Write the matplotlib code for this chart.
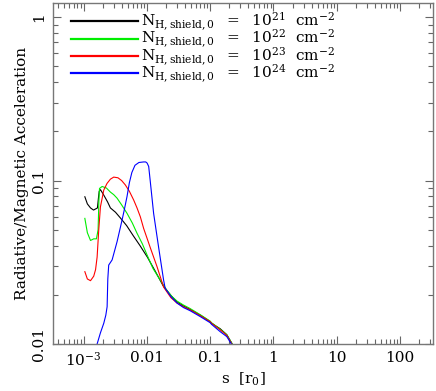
import numpy as np
import matplotlib
matplotlib.use('Agg')
import matplotlib.pyplot as plt
from matplotlib.ticker import LogLocator, FixedLocator, NullFormatter

plt.rcParams['font.family'] = 'DejaVu Serif'
plt.rcParams['mathtext.fontset'] = 'dejavuserif'

# s [r0] and acceleration ratio for each shielding column
s_1e21 = [1.05e-3, 1.15e-3, 1.29e-3, 1.44e-3, 1.66e-3, 1.72e-3, 1.77e-3, 1.85e-3, 2.07e-3,
          2.4e-3, 2.66e-3, 3.2e-3, 3.83e-3, 4.8e-3, 6.1e-3, 7.8e-3, 0.0102, 0.0135, 0.018,
          0.024, 0.030, 0.038, 0.048, 0.07, 0.1, 0.105, 0.144, 0.183, 0.22, 0.23]
a_1e21 = [0.0796, 0.072, 0.068, 0.066, 0.068, 0.078, 0.086, 0.088, 0.082,
          0.074, 0.068, 0.064, 0.059, 0.053, 0.046, 0.040, 0.034, 0.028, 0.0228,
          0.0198, 0.0181, 0.0171, 0.0163, 0.0150, 0.0137, 0.0134, 0.0124, 0.0114, 0.0101, 0.0097]

s_1e22 = [1.05e-3, 1.15e-3, 1.29e-3, 1.45e-3, 1.6e-3, 1.7e-3, 1.75e-3, 1.79e-3, 1.97e-3,
          2.3e-3, 2.66e-3, 3.0e-3, 3.39e-3, 4.0e-3, 4.87e-3, 5.9e-3, 7.0e-3, 8.5e-3, 0.0101,
          0.0125, 0.0163, 0.0209, 0.025, 0.030, 0.038, 0.048, 0.07, 0.1, 0.105, 0.144,
          0.183, 0.22, 0.23]
a_1e22 = [0.0587, 0.048, 0.043, 0.044, 0.044, 0.050, 0.075, 0.0895, 0.092,
          0.090, 0.085, 0.082, 0.078, 0.071, 0.063, 0.055, 0.0476, 0.041, 0.035,
          0.029, 0.0246, 0.0212, 0.0195, 0.0183, 0.0173, 0.0165, 0.0151, 0.0138, 0.0135, 0.0123,
          0.0114, 0.0101, 0.0097]

s_1e23 = [1.05e-3, 1.15e-3, 1.29e-3, 1.45e-3, 1.55e-3, 1.64e-3, 1.74e-3, 1.85e-3, 2.09e-3,
          2.35e-3, 2.66e-3, 3.0e-3, 3.5e-3, 4.0e-3, 4.58e-3, 5.3e-3, 6.2e-3, 7.0e-3, 7.9e-3,
          8.9e-3, 0.0113, 0.0145, 0.0184, 0.024, 0.030, 0.038, 0.048, 0.07, 0.1, 0.105,
          0.144, 0.183, 0.22, 0.23]
a_1e23 = [0.0277, 0.025, 0.0244, 0.026, 0.0285, 0.034, 0.0498, 0.069, 0.0875,
          0.096, 0.102, 0.105, 0.104, 0.1, 0.094, 0.086, 0.076, 0.068, 0.060,
          0.051, 0.039, 0.0297, 0.0223, 0.0192, 0.0178, 0.0169, 0.0162, 0.0149, 0.0137, 0.0134,
          0.0122, 0.0113, 0.0100, 0.0096]

s_1e24 = [1.5e-3, 1.64e-3, 1.85e-3, 2.09e-3, 2.25e-3, 2.36e-3, 2.42e-3, 2.5e-3, 2.83e-3,
          3.39e-3, 4.07e-3, 4.4e-3, 4.87e-3, 5.3e-3, 5.8e-3, 6.5e-3, 7.5e-3, 8.9e-3, 9.6e-3,
          0.0101, 0.0107, 0.0113, 0.0128, 0.0153, 0.0184, 0.0195, 0.024, 0.030, 0.038,
          0.048, 0.07, 0.1, 0.105, 0.144, 0.183, 0.22, 0.23]
a_1e24 = [0.0085, 0.0100, 0.0117, 0.0134, 0.0150, 0.0169, 0.025, 0.0304, 0.0327,
          0.0423, 0.0575, 0.066, 0.080, 0.097, 0.112, 0.124, 0.129, 0.130, 0.130,
          0.128, 0.122, 0.100, 0.063, 0.0394, 0.0246, 0.0219, 0.0195, 0.0178, 0.0167,
          0.0160, 0.0147, 0.0135, 0.0132, 0.0119, 0.0111, 0.0099, 0.0095]

labels = [r'$\mathrm{N_{H,shield,0}\ \ =\ \ 10^{%d}\ \ cm^{-2}}$' % k for k in (21, 22, 23, 24)]
colors = ['black', '#00ee00', 'red', 'blue']

fig = plt.figure(figsize=(4.36, 3.91), dpi=100)
ax = fig.add_axes([0.1216, 0.1202, 0.8714, 0.8721])

series = [(s_1e21, a_1e21), (s_1e22, a_1e22), (s_1e23, a_1e23), (s_1e24, a_1e24)]
for (s, a), c, lab in zip(series, colors, labels):
    ax.plot(s, a, color=c, lw=0.8, label=lab)

ax.set_xscale('log')
ax.set_yscale('log')
ax.set_xlim(3.3e-4, 330)
ax.set_ylim(0.01, 1.22)

ax.xaxis.set_major_locator(FixedLocator([1e-3, 1e-2, 1e-1, 1, 10, 100]))
ax.set_xticklabels([r'$10^{-3}$', '0.01', '0.1', '1', '10', '100'])
ax.xaxis.set_minor_locator(LogLocator(base=10, subs=np.arange(2, 10), numticks=20))
ax.xaxis.set_minor_formatter(NullFormatter())
ax.yaxis.set_major_locator(FixedLocator([0.01, 0.1, 1]))
ax.set_yticklabels(['0.01', '0.1', '1'], rotation=90, va='center')
ax.yaxis.set_minor_locator(LogLocator(base=10, subs=np.arange(2, 10), numticks=20))
ax.yaxis.set_minor_formatter(NullFormatter())

ax.tick_params(which='both', direction='in', top=True, right=True, color='#666666', labelsize=11)
ax.tick_params(which='major', length=6, width=0.8, pad=5)
ax.tick_params(which='minor', length=3.5, width=0.8)
for sp in ax.spines.values():
    sp.set_color('#777777')
    sp.set_linewidth(1.0)

ax.set_xlabel(r'$\mathrm{s\ \ [r_0]}$', fontsize=11, labelpad=1)
ax.set_ylabel('Radiative/Magnetic Acceleration', fontsize=11, labelpad=2)

leg = ax.legend(loc='upper left', bbox_to_anchor=(0.03, 0.995), frameon=False, fontsize=11,
                handlelength=4.4, handletextpad=0.2, labelspacing=-0.35, borderaxespad=0)
for h in leg.get_lines():
    h.set_linewidth(1.6)

fig.savefig('out.png', dpi=100)
